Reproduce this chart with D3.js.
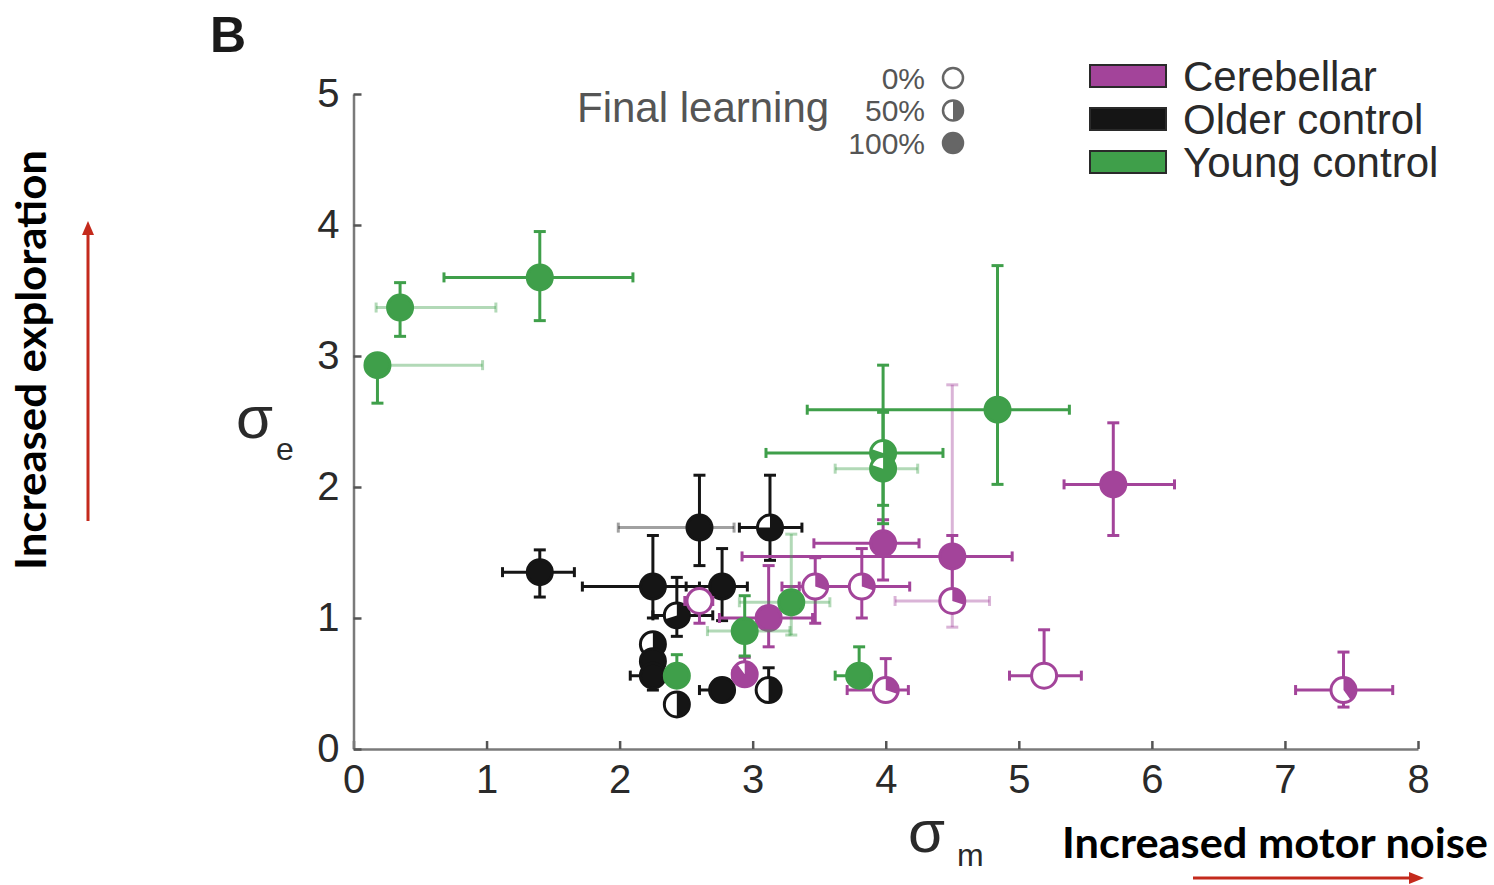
<!DOCTYPE html>
<html>
<head>
<meta charset="utf-8">
<script src="https://cdn.jsdelivr.net/npm/d3@7"></script>
<style>
  body { margin: 0; background: #fff; }
  svg { display: block; }
</style>
</head>
<body>
<svg width="1494" height="885"></svg>
<script>
// each row: [sigma_m, m_low, m_high, sigma_e, e_low, e_high, final learning, faint h bar, faint v bar]
var cerebellar = [
  [5.71, 5.34, 6.17, 2.02, 1.63, 2.49, 1,   0, 0],
  [3.98, 3.46, 4.25, 1.57, 1.29, 1.75, 1,   0, 0],
  [4.50, 2.92, 4.95, 1.47, 1.13, 1.63, 1,   0, 0],
  [4.50, 4.07, 4.78, 1.13, 0.93, 2.78, 0.3, 1, 1],
  [3.82, 3.35, 4.18, 1.24, 1.00, 1.53, 0.3, 0, 0],
  [3.47, 3.22, 3.82, 1.24, 0.96, 1.46, 0.3, 0, 0],
  [3.12, 2.75, 3.45, 1.00, 0.78, 1.40, 1,   0, 0],
  [2.60, 2.49, 2.70, 1.13, 0.96, 1.20, 0,   0, 0],
  [2.94, 2.85, 3.02, 0.57, 0.50, 0.70, 0.9, 0, 0],
  [4.00, 3.71, 4.17, 0.45, 0.38, 0.69, 0.3, 0, 0],
  [5.19, 4.93, 5.47, 0.56, 0.50, 0.91, 0,   0, 0],
  [7.44, 7.08, 7.81, 0.45, 0.32, 0.74, 0.4, 0, 0]
];
var olderControl = [
  [1.40, 1.12, 1.66, 1.35, 1.16, 1.52, 1,    0, 0],
  [2.60, 1.99, 2.86, 1.69, 1.40, 2.09, 1,    1, 0],
  [3.13, 2.90, 3.37, 1.69, 1.44, 2.09, 0.75, 0, 0],
  [2.25, 1.72, 2.60, 1.24, 1.00, 1.63, 1,    0, 0],
  [2.77, 2.50, 2.96, 1.24, 0.98, 1.53, 1,    0, 0],
  [2.43, 2.25, 2.70, 1.02, 0.86, 1.31, 0.7,  0, 0],
  [2.25, 2.20, 2.30, 0.80, 0.66, 0.88, 0.5,  0, 0],
  [2.25, 2.20, 2.30, 0.67, 0.55, 0.80, 1,    0, 0],
  [2.25, 2.08, 2.40, 0.56, 0.45, 0.66, 1,    0, 0],
  [2.43, 2.40, 2.46, 0.34, 0.30, 0.38, 0.5,  0, 0],
  [2.77, 2.60, 2.85, 0.45, 0.41, 0.50, 1,    0, 0],
  [3.12, 3.05, 3.18, 0.45, 0.37, 0.62, 0.5,  0, 0]
];
var youngControl = [
  [0.18, 0.12, 0.97, 2.93, 2.64, 2.98, 1,   1, 0],
  [0.35, 0.17, 1.07, 3.37, 3.15, 3.56, 1,   1, 0],
  [1.40, 0.68, 2.10, 3.60, 3.27, 3.95, 1,   0, 0],
  [4.84, 3.41, 5.38, 2.59, 2.02, 3.69, 1,   0, 0],
  [3.98, 3.10, 4.43, 2.26, 1.72, 2.93, 0.8, 0, 0],
  [3.98, 3.62, 4.24, 2.14, 1.86, 2.57, 0.8, 1, 0],
  [3.29, 2.90, 3.58, 1.12, 0.87, 1.64, 1,   1, 1],
  [2.94, 2.66, 3.28, 0.90, 0.71, 1.17, 1,   1, 0],
  [2.43, 2.40, 2.47, 0.56, 0.50, 0.72, 1,   0, 0],
  [3.80, 3.62, 3.86, 0.56, 0.52, 0.78, 1,   0, 0]
];

var groupNames = ["Cerebellar", "Older control", "Young control"];
var groupColors = ["#a3449a", "#151515", "#3f9f4a"];
var learningLevels = [0, 0.5, 1];
var learningLabels = ["0%", "50%", "100%"];
var xTicks = [0, 1, 2, 3, 4, 5, 6, 7, 8];
var yTicks = [0, 1, 2, 3, 4, 5];

var svg = d3.select("svg");
var x = d3.scaleLinear().domain([0, 8]).range([353.5, 1418]);
var y = d3.scaleLinear().domain([0, 5]).range([749, 94]);
var R = 12.5;
var tickFont = "Liberation Sans, Arial, Helvetica, sans-serif";

// 坐标轴
var xAxis = svg.append("g")
    .attr("transform", "translate(0," + y(0) + ")")
    .call(d3.axisBottom(x).tickValues(xTicks).tickFormat(d3.format("d"))
        .tickSizeInner(-8).tickSizeOuter(0).tickPadding(16));
var yAxis = svg.append("g")
    .attr("transform", "translate(" + x(0) + ",0)")
    .call(d3.axisLeft(y).tickValues(yTicks).tickFormat(d3.format("d"))
        .tickSizeInner(-8).tickSizeOuter(0).tickPadding(14));

[xAxis, yAxis].forEach(function(a) {
    a.select(".domain").attr("stroke", "#7a7a7a").attr("stroke-width", 2.5);
    a.selectAll(".tick line").attr("stroke", "#555").attr("stroke-width", 2.5);
    a.selectAll(".tick text").attr("fill", "#2a2a2a")
        .style("font-family", tickFont).style("font-size", "40px");
});

// 数据点: black first, then magenta, then green on top
var drawOrder = [[olderControl, 1], [cerebellar, 0], [youngControl, 2]];
var arc = d3.arc().innerRadius(0).outerRadius(R);

drawOrder.forEach(function(item) {
    var rows = item[0], color = groupColors[item[1]];
    var g = svg.append("g");

    var bars = g.selectAll("g.bar").data(rows).enter().append("g")
        .attr("stroke", color).attr("stroke-width", 3);

    // horizontal error bar
    bars.append("line")
        .attr("x1", function(d) { return x(d[1]); })
        .attr("x2", function(d) { return x(d[2]); })
        .attr("y1", function(d) { return y(d[3]); })
        .attr("y2", function(d) { return y(d[3]); })
        .attr("stroke-opacity", function(d) { return d[7] ? 0.4 : 1; });
    [1, 2].forEach(function(k) {
        bars.append("line")
            .attr("x1", function(d) { return x(d[k]); })
            .attr("x2", function(d) { return x(d[k]); })
            .attr("y1", function(d) { return y(d[3]) - 5; })
            .attr("y2", function(d) { return y(d[3]) + 5; })
            .attr("stroke-opacity", function(d) { return d[7] ? 0.4 : 1; });
    });

    // vertical error bar
    bars.append("line")
        .attr("x1", function(d) { return x(d[0]); })
        .attr("x2", function(d) { return x(d[0]); })
        .attr("y1", function(d) { return y(d[4]); })
        .attr("y2", function(d) { return y(d[5]); })
        .attr("stroke-opacity", function(d) { return d[8] ? 0.4 : 1; });
    [4, 5].forEach(function(k) {
        bars.append("line")
            .attr("x1", function(d) { return x(d[0]) - 6; })
            .attr("x2", function(d) { return x(d[0]) + 6; })
            .attr("y1", function(d) { return y(d[k]); })
            .attr("y2", function(d) { return y(d[k]); })
            .attr("stroke-opacity", function(d) { return d[8] ? 0.4 : 1; });
    });

    // markers, filled in proportion to final learning
    var mk = g.selectAll("g.mk").data(rows).enter().append("g")
        .attr("transform", function(d) { return "translate(" + x(d[0]) + "," + y(d[3]) + ")"; });
    mk.append("circle").attr("r", R)
        .attr("fill", function(d) { return d[6] >= 1 ? color : "#fff"; })
        .attr("stroke", color).attr("stroke-width", 3);
    mk.filter(function(d) { return d[6] > 0 && d[6] < 1; })
        .append("path")
        .attr("d", function(d) { return arc({ startAngle: 0, endAngle: d[6] * 2 * Math.PI }); })
        .attr("fill", color);
});

// 轴标签
svg.append("text").attr("x", 210).attr("y", 52)
    .style("font-family", tickFont).style("font-weight", "bold").style("font-size", "50px")
    .attr("fill", "#1a1a1a").text("B");

svg.append("text").attr("x", 236).attr("y", 438)
    .style("font-family", tickFont).style("font-size", "60px").attr("fill", "#2a2a2a").text("σ");
svg.append("text").attr("x", 276).attr("y", 460)
    .style("font-family", tickFont).style("font-size", "32px").attr("fill", "#2a2a2a").text("e");
svg.append("text").attr("x", 908).attr("y", 852)
    .style("font-family", tickFont).style("font-size", "60px").attr("fill", "#2a2a2a").text("σ");
svg.append("text").attr("x", 957).attr("y", 866)
    .style("font-family", tickFont).style("font-size", "32px").attr("fill", "#2a2a2a").text("m");

// Final learning 图例
svg.append("text").attr("x", 577).attr("y", 122)
    .style("font-family", tickFont).style("font-size", "42px").attr("fill", "#555").text("Final learning");
var fl = svg.append("g").selectAll("g").data(learningLevels).enter().append("g")
    .attr("transform", function(d, i) { return "translate(953," + (78 + i * 32.5) + ")"; });
fl.append("text").attr("x", -28).attr("dy", "0.36em").attr("text-anchor", "end")
    .style("font-family", tickFont).style("font-size", "30px").attr("fill", "#555")
    .text(function(d, i) { return learningLabels[i]; });
fl.append("circle").attr("r", 10)
    .attr("fill", function(d) { return d >= 1 ? "#666" : "#fff"; })
    .attr("stroke", "#666").attr("stroke-width", 2.5);
fl.filter(function(d) { return d > 0 && d < 1; }).append("path")
    .attr("d", function(d) { return d3.arc().innerRadius(0).outerRadius(10)({ startAngle: 0, endAngle: d * 2 * Math.PI }); })
    .attr("fill", "#666");

// 组别图例
var lg = svg.append("g").selectAll("g").data(groupNames).enter().append("g")
    .attr("transform", function(d, i) { return "translate(1090," + (65 + i * 43) + ")"; });
lg.append("rect").attr("width", 76).attr("height", 22)
    .attr("fill", function(d, i) { return groupColors[i]; })
    .attr("stroke", "#2a2a2a").attr("stroke-width", 2);
lg.append("text").attr("x", 93).attr("y", 11).attr("dy", "0.36em")
    .style("font-family", tickFont).style("font-size", "42px").attr("fill", "#2a2a2a")
    .text(function(d) { return d; });

// 注释和红色箭头
var noteFont = "Lato, DejaVu Sans, sans-serif";
svg.append("text").attr("transform", "translate(46,360) rotate(-90)")
    .attr("text-anchor", "middle")
    .attr("textLength", 420).attr("lengthAdjust", "spacingAndGlyphs")
    .style("font-family", noteFont).style("font-weight", "bold").style("font-size", "42px")
    .attr("fill", "#000").text("Increased exploration");
svg.append("text").attr("x", 1062).attr("y", 858)
    .attr("textLength", 426).attr("lengthAdjust", "spacingAndGlyphs")
    .style("font-family", noteFont).style("font-weight", "bold").style("font-size", "42px")
    .attr("fill", "#000").text("Increased motor noise");

var red = "#c42a1c";
svg.append("line").attr("x1", 88).attr("x2", 88).attr("y1", 521).attr("y2", 234)
    .attr("stroke", red).attr("stroke-width", 3);
svg.append("path").attr("d", "M88,221 L82,235 L94,235 Z").attr("fill", red);
svg.append("line").attr("x1", 1193).attr("x2", 1410).attr("y1", 878).attr("y2", 878)
    .attr("stroke", red).attr("stroke-width", 3);
svg.append("path").attr("d", "M1424,878 L1409,872 L1409,884 Z").attr("fill", red);
</script>
</body>
</html>
